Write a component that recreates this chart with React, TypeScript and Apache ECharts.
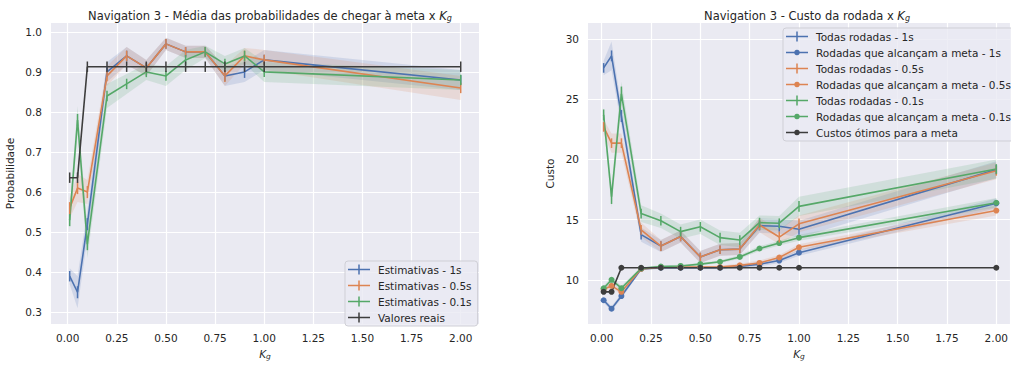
import React, { useEffect, useRef } from "react";
import * as echarts from "echarts";

// ---------- data ----------
const kg = [0.01, 0.05, 0.1, 0.2, 0.3, 0.4, 0.5, 0.6, 0.7, 0.8, 0.9, 1.0, 2.0];
const xTicks = [0, 0.25, 0.5, 0.75, 1.0, 1.25, 1.5, 1.75, 2.0];
const probTicks = [0.3, 0.4, 0.5, 0.6, 0.7, 0.8, 0.9, 1.0];
const costTicks = [10, 15, 20, 25, 30];

// left: probabilities
const prob1s = [0.39, 0.35, 0.52, 0.9, 0.94, 0.91, 0.97, 0.95, 0.95, 0.89, 0.9, 0.93, 0.88];
const prob05s = [0.56, 0.61, 0.6, 0.89, 0.94, 0.91, 0.97, 0.95, 0.95, 0.89, 0.94, 0.93, 0.86];
const prob01s = [0.53, 0.78, 0.47, 0.84, 0.87, 0.9, 0.89, 0.93, 0.95, 0.92, 0.94, 0.9, 0.88];
const probReal = [0.636, 0.636, 0.913, 0.913, 0.913, 0.913, 0.913, 0.913, 0.913, 0.913, 0.913, 0.913, 0.913];

const errProb1s = [0.013, 0.015, 0.015, 0.013, 0.013, 0.013, 0.012, 0.012, 0.012, 0.013, 0.015, 0.013, 0.012];
const errProb05s = [0.015, 0.015, 0.015, 0.013, 0.013, 0.013, 0.012, 0.012, 0.012, 0.015, 0.013, 0.013, 0.013];
const errProb01s = [0.015, 0.015, 0.015, 0.013, 0.013, 0.013, 0.012, 0.012, 0.012, 0.013, 0.013, 0.013, 0.013];
const errProbReal = [0.013, 0.013, 0.013, 0.013, 0.013, 0.013, 0.013, 0.013, 0.013, 0.013, 0.013, 0.013, 0.013];

const bandProb1s = [0.02, 0.04, 0.035, 0.025, 0.022, 0.02, 0.015, 0.015, 0.015, 0.025, 0.025, 0.025, 0.025];
const bandProb05s = [0.025, 0.035, 0.03, 0.025, 0.022, 0.02, 0.015, 0.015, 0.015, 0.025, 0.02, 0.025, 0.03];
const bandProb01s = [0.03, 0.035, 0.035, 0.03, 0.025, 0.02, 0.025, 0.025, 0.015, 0.02, 0.02, 0.025, 0.025];

// right: costs
const cost1s = [27.6, 28.6, 23.6, 13.75, 12.8, 13.6, 11.9, 12.5, 12.55, 14.5, 14.45, 14.2, 19.15];
const cost05s = [22.7, 21.35, 21.35, 14.15, 12.8, 13.6, 11.9, 12.5, 12.55, 14.55, 13.55, 14.65, 19.05];
const cost01s = [23.7, 16.9, 25.45, 15.5, 14.9, 14.0, 14.4, 13.5, 13.3, 14.75, 14.7, 16.1, 19.2];
const goal1s = [8.3, 7.6, 8.65, 10.9, 11.0, 11.0, 11.0, 11.0, 11.1, 11.3, 11.6, 12.25, 16.35];
const goal05s = [9.2, 9.5, 9.0, 10.9, 11.05, 11.05, 11.05, 11.05, 11.2, 11.4, 11.85, 12.7, 15.75];
const goal01s = [9.3, 10.0, 9.3, 10.95, 11.1, 11.15, 11.3, 11.5, 11.9, 12.6, 13.05, 13.5, 16.4];
const optimal = [9, 9, 11, 11, 11, 11, 11, 11, 11, 11, 11, 11, 11];

const errCost1s = [0.4, 0.45, 0.5, 0.4, 0.4, 0.4, 0.35, 0.35, 0.35, 0.4, 0.45, 0.45, 0.4];
const errCost05s = [0.4, 0.4, 0.4, 0.4, 0.4, 0.4, 0.35, 0.35, 0.35, 0.4, 0.45, 0.45, 0.4];
const errCost01s = [0.45, 0.6, 0.6, 0.4, 0.4, 0.4, 0.4, 0.4, 0.4, 0.4, 0.4, 0.45, 0.4];

const bandCost1s = [0.6, 1.2, 0.8, 0.6, 0.5, 0.5, 0.5, 0.5, 0.5, 0.6, 0.6, 0.7, 0.7];
const bandCost05s = [0.6, 0.8, 0.8, 0.6, 0.5, 0.5, 0.5, 0.5, 0.5, 0.6, 0.6, 0.7, 0.7];
const bandCost01s = [0.6, 0.9, 1.0, 0.7, 0.6, 0.6, 0.6, 0.6, 0.6, 0.6, 0.6, 0.8, 0.8];
const bandGoal1s = [0.2, 0.2, 0.2, 0.1, 0.1, 0.1, 0.1, 0.12, 0.15, 0.2, 0.2, 0.25, 0.4];
const bandGoal05s = [0.2, 0.2, 0.2, 0.1, 0.1, 0.1, 0.1, 0.12, 0.15, 0.2, 0.2, 0.25, 0.4];
const bandGoal01s = [0.2, 0.2, 0.2, 0.1, 0.1, 0.1, 0.1, 0.12, 0.15, 0.2, 0.2, 0.25, 0.4];

// ---------- style ----------
const BLUE = "#4C72B0";
const ORANGE = "#DD8452";
const GREEN = "#55A868";
const GRAY = "#3d3d3d";
const TXT = "#262626";
const FONT = "DejaVu Sans";

const ICON_BAR = "path://M0,4.25H22V5.75H0Z M10.25,0H11.75V10H10.25Z";
const ICON_DOT = "path://M0,0 M22,10 M0,4.3H22V5.7H0Z M11,2.2A2.8,2.8,0,1,1,10.99,2.2Z";

function hexA(hex: string, a: number) {
  const r = parseInt(hex.slice(1, 3), 16);
  const g = parseInt(hex.slice(3, 5), 16);
  const b = parseInt(hex.slice(5, 7), 16);
  return `rgba(${r},${g},${b},${a})`;
}

function lineSeries(name: string, ai: number, vals: number[], color: string, dots: boolean) {
  return {
    type: "line",
    name,
    xAxisIndex: ai,
    yAxisIndex: ai,
    data: kg.map((x, i) => [x, vals[i]]),
    symbol: dots ? "circle" : "none",
    showSymbol: dots,
    symbolSize: 6,
    lineStyle: { color, width: 1.6 },
    itemStyle: { color },
    z: 3,
    silent: true,
  };
}

function errSeries(ai: number, vals: number[], errs: number[], color: string) {
  return {
    type: "custom",
    xAxisIndex: ai,
    yAxisIndex: ai,
    data: kg.map((x, i) => [x, vals[i] - errs[i], vals[i] + errs[i]]),
    encode: { x: 0, y: [1, 2] },
    z: 4,
    silent: true,
    renderItem: (_p: any, api: any) => {
      const a = api.coord([api.value(0), api.value(1)]);
      const b = api.coord([api.value(0), api.value(2)]);
      return {
        type: "line",
        shape: { x1: a[0], y1: a[1], x2: b[0], y2: b[1] },
        style: { stroke: color, lineWidth: 1.5 },
      };
    },
  };
}

function bandSeries(ai: number, vals: number[], half: number[], color: string) {
  const data = kg.map((x, i) => [x, vals[i] - half[i], vals[i] + half[i]]);
  return {
    type: "custom",
    xAxisIndex: ai,
    yAxisIndex: ai,
    data,
    encode: { x: 0, y: [1, 2] },
    z: 1,
    silent: true,
    renderItem: (p: any, api: any) => {
      if (p.dataIndex !== 0) return null;
      const up = data.map((d) => api.coord([d[0], d[2]]));
      const lo = data.map((d) => api.coord([d[0], d[1]])).reverse();
      return {
        type: "polygon",
        shape: { points: up.concat(lo) },
        style: { fill: hexA(color, 0.17) },
      };
    },
  };
}

function titleText(main: string) {
  return `{t|${main}}{k|K}{s|g}`;
}

const titleRich = {
  t: { fontSize: 11.5, color: TXT, fontFamily: FONT, fontWeight: "normal" },
  k: { fontSize: 11.5, color: TXT, fontFamily: FONT, fontStyle: "italic", fontWeight: "normal" },
  s: { fontSize: 8, color: TXT, fontFamily: FONT, fontStyle: "italic", fontWeight: "normal", verticalAlign: "bottom", padding: [5, 0, 0, 0] },
};

function xAxis(gi: number, min: number, max: number) {
  return {
    type: "value",
    gridIndex: gi,
    min,
    max,
    name: "{k|K}{s|g}",
    nameLocation: "middle",
    nameGap: 18,
    nameTextStyle: {
      rich: {
        k: { fontSize: 10.5, color: TXT, fontFamily: FONT, fontStyle: "italic" },
        s: { fontSize: 7.5, color: TXT, fontFamily: FONT, fontStyle: "italic", verticalAlign: "bottom", padding: [5, 0, 0, 0] },
      },
    },
    axisLine: { show: false },
    axisTick: { show: false, customValues: xTicks },
    axisLabel: {
      customValues: xTicks,
      color: TXT,
      fontFamily: FONT,
      fontSize: 10.5,
      margin: 8,
      formatter: (v: number) => v.toFixed(2),
    },
    splitLine: { show: true, lineStyle: { color: "#ffffff", width: 1.2 } },
  };
}

function yAxis(gi: number, min: number, max: number, ticks: number[], name: string, gap: number, dec: number) {
  return {
    type: "value",
    gridIndex: gi,
    min,
    max,
    name,
    nameLocation: "middle",
    nameGap: gap,
    nameTextStyle: { color: TXT, fontFamily: FONT, fontSize: 10.5 },
    axisLine: { show: false },
    axisTick: { show: false, customValues: ticks },
    axisLabel: {
      customValues: ticks,
      color: TXT,
      fontFamily: FONT,
      fontSize: 10.5,
      margin: 9,
      formatter: (v: number) => v.toFixed(dec),
    },
    splitLine: { show: true, lineStyle: { color: "#ffffff", width: 1.2 } },
  };
}

const legendBase = {
  orient: "vertical",
  itemWidth: 22,
  itemHeight: 10,
  itemGap: 5,
  backgroundColor: "rgba(234,234,242,0.8)",
  borderColor: "#cfcfd6",
  borderWidth: 1,
  borderRadius: 3,
  textStyle: { color: TXT, fontFamily: FONT, fontSize: 10.5, padding: [0, 0, 0, 3] },
  selectedMode: false,
};

export default function App() {
  const ref = useRef<HTMLDivElement>(null);
  useEffect(() => {
    if (!ref.current) return;
    const chart = echarts.init(ref.current, null, { renderer: "svg" });
    chart.setOption({
      animation: false,
      backgroundColor: "#ffffff",
      title: [
        { text: titleText("Navigation 3 - Média das probabilidades de chegar à meta x "), left: 265, textAlign: "center", top: 4, textStyle: { fontWeight: "normal", rich: titleRich } },
        { text: titleText("Navigation 3 - Custo da rodada x "), left: 802, textAlign: "center", top: 4, textStyle: { fontWeight: "normal", rich: titleRich } },
      ],
      grid: [
        { left: 51, top: 23, width: 428, height: 306, show: true, backgroundColor: "#EAEAF2", borderWidth: 0 },
        { left: 588, top: 23, width: 423, height: 306, show: true, backgroundColor: "#EAEAF2", borderWidth: 0 },
      ],
      xAxis: [xAxis(0, -0.085, 2.093), xAxis(1, -0.0693, 2.069)],
      yAxis: [
        yAxis(0, 0.2705, 1.0221, probTicks, "Probabilidade", 36, 1),
        yAxis(1, 6.32, 31.33, costTicks, "Custo", 33, 0),
      ],
      legend: [
        {
          ...legendBase,
          left: 345,
          top: 261,
          padding: [3, 6, 3, 3],
          data: [
            { name: "Estimativas - 1s", icon: ICON_BAR },
            { name: "Estimativas - 0.5s", icon: ICON_BAR },
            { name: "Estimativas - 0.1s", icon: ICON_BAR },
            { name: "Valores reais", icon: ICON_BAR },
          ],
        },
        {
          ...legendBase,
          left: 783,
          top: 28,
          padding: [3, 6, 3, 3],
          data: [
            { name: "Todas rodadas - 1s", icon: ICON_BAR },
            { name: "Rodadas que alcançam a meta - 1s", icon: ICON_DOT },
            { name: "Todas rodadas - 0.5s", icon: ICON_BAR },
            { name: "Rodadas que alcançam a meta - 0.5s", icon: ICON_DOT },
            { name: "Todas rodadas - 0.1s", icon: ICON_BAR },
            { name: "Rodadas que alcançam a meta - 0.1s", icon: ICON_DOT },
            { name: "Custos ótimos para a meta", icon: ICON_DOT },
          ],
        },
      ],
      series: [
        // left bands
        bandSeries(0, prob1s, bandProb1s, BLUE),
        bandSeries(0, prob05s, bandProb05s, ORANGE),
        bandSeries(0, prob01s, bandProb01s, GREEN),
        lineSeries("Estimativas - 1s", 0, prob1s, BLUE, false),
        errSeries(0, prob1s, errProb1s, BLUE),
        lineSeries("Estimativas - 0.5s", 0, prob05s, ORANGE, false),
        errSeries(0, prob05s, errProb05s, ORANGE),
        lineSeries("Estimativas - 0.1s", 0, prob01s, GREEN, false),
        errSeries(0, prob01s, errProb01s, GREEN),
        lineSeries("Valores reais", 0, probReal, GRAY, false),
        errSeries(0, probReal, errProbReal, GRAY),
        // right bands
        bandSeries(1, cost1s, bandCost1s, BLUE),
        bandSeries(1, goal1s, bandGoal1s, BLUE),
        bandSeries(1, cost05s, bandCost05s, ORANGE),
        bandSeries(1, goal05s, bandGoal05s, ORANGE),
        bandSeries(1, cost01s, bandCost01s, GREEN),
        bandSeries(1, goal01s, bandGoal01s, GREEN),
        lineSeries("Todas rodadas - 1s", 1, cost1s, BLUE, false),
        errSeries(1, cost1s, errCost1s, BLUE),
        lineSeries("Rodadas que alcançam a meta - 1s", 1, goal1s, BLUE, true),
        lineSeries("Todas rodadas - 0.5s", 1, cost05s, ORANGE, false),
        errSeries(1, cost05s, errCost05s, ORANGE),
        lineSeries("Rodadas que alcançam a meta - 0.5s", 1, goal05s, ORANGE, true),
        lineSeries("Todas rodadas - 0.1s", 1, cost01s, GREEN, false),
        errSeries(1, cost01s, errCost01s, GREEN),
        lineSeries("Rodadas que alcançam a meta - 0.1s", 1, goal01s, GREEN, true),
        lineSeries("Custos ótimos para a meta", 1, optimal, GRAY, true),
      ],
    });
    return () => chart.dispose();
  }, []);
  return (
    <div
      ref={ref}
      style={{ position: "fixed", left: 0, top: 0, width: 1011, height: 365 }}
    />
  );
}
